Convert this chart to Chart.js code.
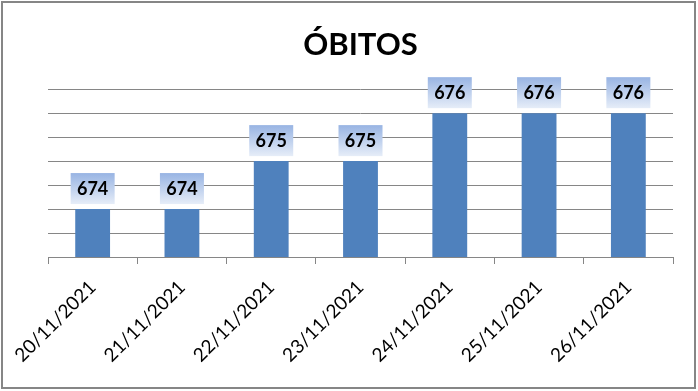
<!DOCTYPE html>
<html>
<head>
<meta charset="utf-8">
<title>Óbitos</title>
<script src="https://cdn.jsdelivr.net/npm/chart.js@4"></script>
<style>
    html, body { margin: 0; padding: 0; background: #fff; }
    #wrap { width: 698px; height: 391px; position: relative; }
</style>
</head>
<body>
<div id="wrap"><canvas id="obitosChart" width="698" height="391"></canvas></div>
<script>
// dados do gráfico
const dias = ['20/11/2021', '21/11/2021', '22/11/2021', '23/11/2021', '24/11/2021', '25/11/2021', '26/11/2021'];
const obitos = [674, 674, 675, 675, 676, 676, 676];
const yMin = 673;
const yMax = 676.5;
const yStep = 0.5;

const fonte = 'Lato, "Open Sans", sans-serif';
const cinza = '#868686';

// borda externa + rótulos de dados com caixa em degradê
const extras = {
    id: 'extras',
    beforeDraw(chart) {
        const ctx = chart.ctx;
        ctx.save();
        ctx.fillStyle = '#fff';
        ctx.fillRect(0, 0, chart.width, chart.height);
        ctx.restore();
    },
    afterDraw(chart) {
        const ctx = chart.ctx;
        ctx.save();
        ctx.strokeStyle = cinza;
        ctx.lineWidth = 2;
        ctx.strokeRect(2, 2, 693, 386);

        const meta = chart.getDatasetMeta(0);
        meta.data.forEach((bar, i) => {
            const w = 44, h = 31;
            const x = bar.x - w / 2;
            const y = bar.y - 5 - h;
            const grad = ctx.createLinearGradient(0, y, 0, y + h);
            grad.addColorStop(0, '#98b4e3');
            grad.addColorStop(1, '#e6edf8');
            ctx.fillStyle = grad;
            ctx.fillRect(x, y, w, h);
            ctx.fillStyle = '#000';
            ctx.font = 'bold 18px ' + fonte;
            ctx.textAlign = 'center';
            ctx.textBaseline = 'middle';
            ctx.fillText(String(obitos[i]), bar.x, y + h / 2 + 1);
        });
        ctx.restore();
    }
};

const ctx = document.getElementById('obitosChart').getContext('2d');
new Chart(ctx, {
    type: 'bar',
    data: {
        labels: dias,
        datasets: [{
            label: 'Óbitos',
            data: obitos,
            backgroundColor: '#4f81bd',
            borderWidth: 0,
            barPercentage: 0.39,
            categoryPercentage: 1
        }]
    },
    options: {
        responsive: false,
        animation: false,
        devicePixelRatio: 1,
        layout: { padding: { left: 48, right: 25, top: 0, bottom: 0 } },
        scales: {
            x: {
                offset: true,
                grid: {
                    offset: true,
                    drawOnChartArea: false,
                    drawTicks: true,
                    tickLength: 7,
                    color: cinza
                },
                border: { display: true, color: cinza },
                ticks: {
                    minRotation: 45,
                    maxRotation: 45,
                    padding: 12,
                    color: '#000',
                    font: { family: fonte, size: 19 }
                },
                afterFit(scale) { scale.height = 134; }
            },
            y: {
                min: yMin,
                max: yMax,
                ticks: { stepSize: yStep, display: false },
                grid: { color: cinza, drawTicks: false },
                border: { display: false },
                afterFit(scale) { scale.width = 0; }
            }
        },
        plugins: {
            legend: { display: false },
            tooltip: { enabled: false },
            title: {
                display: true,
                text: 'ÓBITOS',
                color: '#000',
                font: { family: fonte, size: 31, weight: 'bold' },
                padding: { top: 26, bottom: 26 }
            }
        }
    },
    plugins: [extras]
});
</script>
</body>
</html>
